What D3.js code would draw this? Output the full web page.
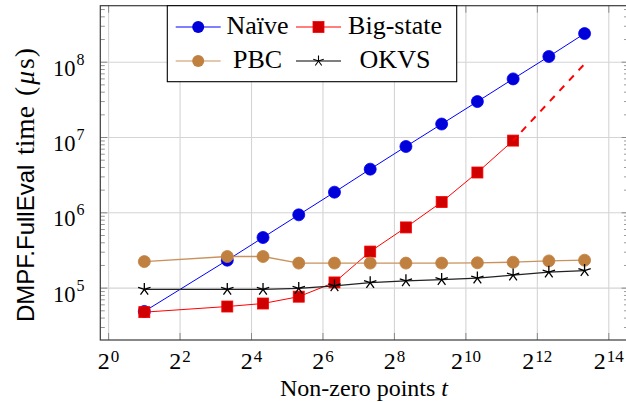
<!DOCTYPE html>
<html><head><meta charset="utf-8">
<script src="https://cdn.jsdelivr.net/npm/d3@7"></script>
<style>body{margin:0;background:#fff}svg{display:block}
.serif{font-family:"Liberation Serif","Times New Roman",Times,"DejaVu Serif",serif}
.sans{font-family:"Liberation Sans",Arial,Helvetica,sans-serif}
</style>
</head><body>
<svg id="chart" width="626" height="402"></svg>
<script>
// ---- data ----
const tValues   = [2, 10, 20, 40, 80, 160, 320, 640, 1280, 2560, 5120, 10240];
const naive     = [4.9e4, 2.35e5, 4.7e5, 9.4e5, 1.88e6, 3.8e6, 7.6e6, 1.51e7, 3.0e7, 6.0e7, 1.19e8, 2.4e8];
const bigState  = [4.8e4, 5.7e4, 6.25e4, 7.7e4, 1.19e5, 3.06e5, 6.4e5, 1.39e6, 3.43e6, 9.1e6];
const bigStateExtT = [2560, 10240];
const bigStateExt  = [9.1e6, 9.5e7];
const pbc       = [2.25e5, 2.63e5, 2.63e5, 2.15e5, 2.15e5, 2.15e5, 2.15e5, 2.15e5, 2.17e5, 2.21e5, 2.3e5, 2.35e5];
const okvs      = [9.6e4, 9.6e4, 9.6e4, 9.9e4, 1.07e5, 1.18e5, 1.25e5, 1.30e5, 1.36e5, 1.49e5, 1.63e5, 1.71e5];
const xTickExps = [0, 2, 4, 6, 8, 10, 12, 14];
const yTickExps = [5, 6, 7, 8];
const legendLabels = ["Naïve", "Big-state", "PBC", "OKVS"];

// ---- layout ----
const L = 100.3, R = 628.6, T = 5.7, B = 340;
const svg = d3.select("#chart");

const lx = tValues.map(Math.log2);
const xr = d3.max(lx) - d3.min(lx);
const x = d3.scaleLog().base(2)
  .domain([Math.pow(2, d3.min(lx) - 0.1 * xr), Math.pow(2, d3.max(lx) + 0.1 * xr)])
  .range([L, R]);
const allY = naive.concat(bigState, pbc, okvs);
const ly = allY.map(Math.log10);
const yr = d3.max(ly) - d3.min(ly);
const y = d3.scaleLog()
  .domain([Math.pow(10, d3.min(ly) - 0.1 * yr), Math.pow(10, d3.max(ly) + 0.1 * yr)])
  .range([B, T]);

const g = svg.append("g");

const xMajor = xTickExps.map(e => Math.pow(2, e));
const yMajor = yTickExps.map(e => Math.pow(10, e));
g.selectAll(".gx").data(xMajor).join("line")
  .attr("x1", d => x(d)).attr("x2", d => x(d)).attr("y1", T).attr("y2", B)
  .attr("stroke", "#d4d4d4").attr("stroke-width", 1.1);
g.selectAll(".gy").data(yMajor).join("line")
  .attr("x1", L).attr("x2", R).attr("y1", d => y(d)).attr("y2", d => y(d))
  .attr("stroke", "#d4d4d4").attr("stroke-width", 1.1);

const yMinor = [];
for (let e = 4; e <= 8; e++) for (let m = 2; m <= 9; m++) {
  const v = m * Math.pow(10, e);
  if (v > y.domain()[0] && v < y.domain()[1]) yMinor.push(v);
}
const tickCol = "#8a8a8a";
g.selectAll(".myl").data(yMinor).join("line")
  .attr("x1", L).attr("x2", L + 4.5).attr("y1", d => y(d)).attr("y2", d => y(d))
  .attr("stroke", tickCol).attr("stroke-width", 0.9);
g.selectAll(".myr").data(yMinor).join("line")
  .attr("x1", R).attr("x2", R - 4.5).attr("y1", d => y(d)).attr("y2", d => y(d))
  .attr("stroke", tickCol).attr("stroke-width", 0.9);
g.selectAll(".Myl").data(yMajor).join("line")
  .attr("x1", L).attr("x2", L + 7).attr("y1", d => y(d)).attr("y2", d => y(d))
  .attr("stroke", tickCol).attr("stroke-width", 1);
g.selectAll(".Myr").data(yMajor).join("line")
  .attr("x1", R).attr("x2", R - 7).attr("y1", d => y(d)).attr("y2", d => y(d))
  .attr("stroke", tickCol).attr("stroke-width", 1);
g.selectAll(".Mxb").data(xMajor).join("line")
  .attr("x1", d => x(d)).attr("x2", d => x(d)).attr("y1", B).attr("y2", B - 7)
  .attr("stroke", tickCol).attr("stroke-width", 1);
g.selectAll(".Mxt").data(xMajor).join("line")
  .attr("x1", d => x(d)).attr("x2", d => x(d)).attr("y1", T).attr("y2", T + 7)
  .attr("stroke", tickCol).attr("stroke-width", 1);

g.append("rect").attr("x", L).attr("y", T).attr("width", R - L).attr("height", B - T)
  .attr("fill", "none").attr("stroke", "#3a3a3a").attr("stroke-width", 1.2);

// tick labels: base + superscript
xTickExps.forEach(e => {
  const cx = x(Math.pow(2, e));
  const supW = String(e).length * 8.5;
  const tot = 12 + 1 + supW;
  const x0 = cx - tot / 2;
  g.append("text").attr("class", "serif").attr("x", x0).attr("y", 369)
    .attr("font-size", 24).attr("fill", "#000").text("2");
  g.append("text").attr("class", "serif").attr("x", x0 + 13).attr("y", 362)
    .attr("font-size", 17).attr("fill", "#000").text(e);
});
yTickExps.forEach(e => {
  const cy = y(Math.pow(10, e));
  g.append("text").attr("class", "serif").attr("x", 75.5).attr("y", cy + 13.4)
    .attr("text-anchor", "end").attr("font-size", 22.5).attr("fill", "#000").text("10");
  g.append("text").attr("class", "serif").attr("x", 76.5).attr("y", cy + 2.4)
    .attr("font-size", 16).attr("fill", "#000").text(e);
});

// axis titles
g.append("text").attr("class", "serif").attr("x", 364).attr("y", 396).attr("text-anchor", "middle")
  .attr("font-size", 24).attr("fill", "#000")
  .call(t => { t.append("tspan").text("Non-zero points ");
               t.append("tspan").attr("font-style", "italic").text("t"); });
const ytg = g.append("g").attr("transform", "translate(34,0) rotate(-90)");
ytg.append("text").attr("class", "sans").attr("x", -322).attr("y", 0)
  .attr("font-size", 24).attr("fill", "#000").text("DMPF.FullEval");
const yt2 = ytg.append("text").attr("class", "serif").attr("x", -155).attr("y", 0)
  .attr("font-size", 27.5).attr("fill", "#000");
yt2.append("tspan").text("time");
yt2.append("tspan").attr("x", -96).attr("letter-spacing", 2).text("(");
yt2.append("tspan").attr("font-style", "italic").attr("letter-spacing", 2).text("μ");
yt2.append("tspan").attr("letter-spacing", 1).text("s)");

// ---- series ----
const line = d3.line().x(d => x(d[0])).y(d => y(d[1]));
const zip = (xs, ys) => ys.map((v, i) => [xs[i], v]);
const naiveD = zip(tValues, naive), bigD = zip(tValues, bigState),
      pbcD = zip(tValues, pbc), okvsD = zip(tValues, okvs),
      extD = zip(bigStateExtT, bigStateExt);

const cBlue = "#0000ff", cBlueM = "#0000d8", cRed = "#ff0000", cRedM = "#d00000",
      cBrownL = "#c9925c", cBrownM = "#c08040", cBlack = "#222";

function circles(data, fill, stroke) {
  g.append("g").selectAll("circle").data(data).join("circle")
    .attr("cx", d => x(d[0])).attr("cy", d => y(d[1])).attr("r", 6)
    .attr("fill", fill).attr("stroke", stroke).attr("stroke-width", 0.8);
}
function squares(data, fill, stroke) {
  g.append("g").selectAll("rect").data(data).join("rect")
    .attr("x", d => x(d[0]) - 5.5).attr("y", d => y(d[1]) - 5.5).attr("width", 11).attr("height", 11)
    .attr("fill", fill).attr("stroke", stroke).attr("stroke-width", 0.8);
}
const starPath = (cx, cy, r) => {
  let p = "";
  for (let k = 0; k < 5; k++) {
    const a = -Math.PI / 2 + k * 2 * Math.PI / 5;
    p += `M${cx},${cy}L${cx + r * Math.cos(a)},${cy + r * Math.sin(a)}`;
  }
  return p;
};
function stars(data, stroke) {
  g.append("g").selectAll("path").data(data).join("path")
    .attr("d", d => starPath(x(d[0]), y(d[1]), 6.5))
    .attr("fill", "none").attr("stroke", stroke).attr("stroke-width", 1.3);
}

g.append("path").datum(naiveD).attr("d", line).attr("fill", "none").attr("stroke", cBlue).attr("stroke-width", 1);
circles(naiveD, cBlueM, cBlue);
g.append("path").datum(bigD).attr("d", line).attr("fill", "none").attr("stroke", cRed).attr("stroke-width", 1);
squares(bigD, cRedM, cRed);
g.append("path").datum(extD).attr("d", line).attr("fill", "none").attr("stroke", cRed)
  .attr("stroke-width", 2).attr("stroke-dasharray", "7,7").attr("stroke-dashoffset", -12);
g.append("path").datum(pbcD).attr("d", line).attr("fill", "none").attr("stroke", cBrownL).attr("stroke-width", 1.3);
circles(pbcD, cBrownM, cBrownM);
g.append("path").datum(okvsD).attr("d", line).attr("fill", "none").attr("stroke", cBlack).attr("stroke-width", 1.2);
stars(okvsD, "#000");

// ---- legend ----
const lg = g.append("g");
lg.append("rect").attr("x", 167.3).attr("y", T).attr("width", 289.4).attr("height", 76)
  .attr("fill", "#fff").attr("stroke", "#000").attr("stroke-width", 1.1);
const legItems = [
  {label: legendLabels[0], col: cBlue, mark: "circle", mfill: cBlueM, lx: 175.7, tx: 257.5, ty: 27},
  {label: legendLabels[1], col: cRed, mark: "square", mfill: cRedM, lx: 296, tx: 395, ty: 27},
  {label: legendLabels[2], col: cBrownL, mark: "circle", mfill: cBrownM, lx: 175.7, tx: 257.5, ty: 61},
  {label: legendLabels[3], col: "#555", mark: "star", mfill: "#000", lx: 296, tx: 395, ty: 61}
];
legItems.forEach(it => {
  lg.append("line").attr("x1", it.lx).attr("x2", it.lx + 45).attr("y1", it.ty).attr("y2", it.ty)
    .attr("stroke", it.col).attr("stroke-width", it.mark === "star" ? 1.6 : 1.2);
  const cx = it.lx + 22.5;
  if (it.mark === "circle") lg.append("circle").attr("cx", cx).attr("cy", it.ty).attr("r", 6).attr("fill", it.mfill);
  else if (it.mark === "square") lg.append("rect").attr("x", cx - 5.5).attr("y", it.ty - 5.5).attr("width", 11).attr("height", 11).attr("fill", it.mfill).attr("stroke", it.col).attr("stroke-width", 0.8);
  else lg.append("path").attr("d", starPath(cx, it.ty, 5.5)).attr("stroke", "#000").attr("stroke-width", 1.1).attr("fill", "none");
  lg.append("text").attr("class", "serif").attr("x", it.tx).attr("y", it.ty + 7.2).attr("text-anchor", "middle")
    .attr("font-size", 26).attr("fill", "#000").text(it.label);
});
</script>
</body></html>
